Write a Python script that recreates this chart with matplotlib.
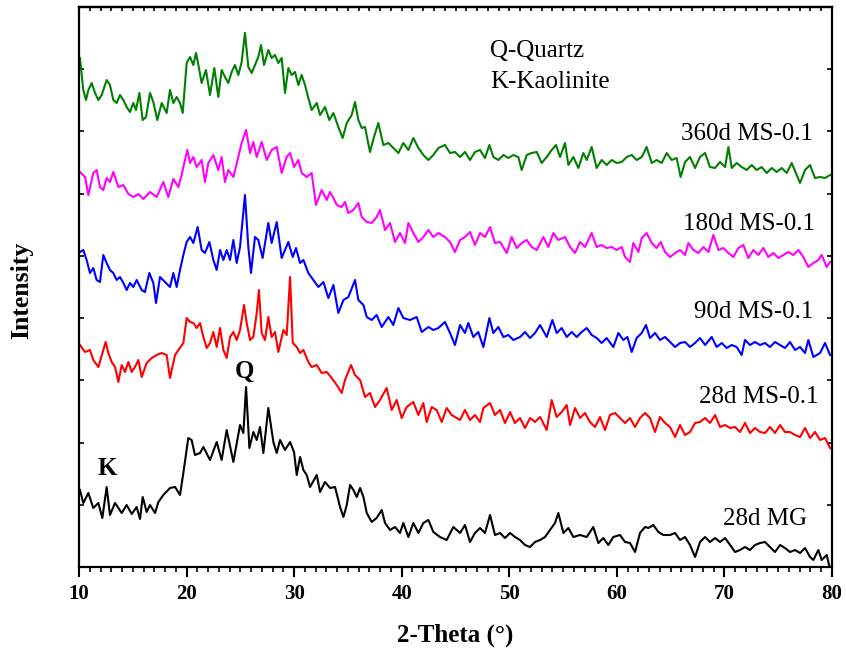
import matplotlib
matplotlib.use("Agg")
import matplotlib.pyplot as plt
from matplotlib.ticker import MultipleLocator
import numpy as np

plt.rcParams['font.family'] = ['Liberation Serif', 'DejaVu Serif']

# 2-theta (deg) and intensity (a.u., stacked as drawn)
mg28_x = [10.09, 10.40, 10.87, 11.33, 11.80, 12.17, 12.57, 12.88, 13.35, 13.97, 14.43, 14.90, 15.36, 15.67,
          15.92, 16.29, 16.60, 17.07, 17.38, 17.84, 18.46, 18.93, 19.39, 19.70, 20.16, 20.47, 20.78, 21.25,
          21.56, 22.18, 22.80, 23.26, 23.73, 24.35, 24.97, 25.28, 25.53, 25.84, 26.21, 26.52, 26.83, 27.14,
          27.60, 28.07, 28.38, 28.69, 29.15, 29.62, 29.99, 30.24, 30.55, 30.86, 31.17, 31.48, 32.10, 32.41,
          32.87, 33.34, 33.80, 34.27, 34.58, 34.89, 35.20, 35.51, 35.82, 36.13, 36.44, 36.75, 37.21, 37.67,
          38.14, 38.45, 38.91, 39.38, 39.84, 40.15, 40.62, 41.08, 41.55, 42.01, 42.48, 42.94, 43.56, 44.18,
          44.80, 45.42, 45.88, 46.35, 46.81, 47.28, 47.74, 48.21, 48.67, 49.14, 49.60, 50.07, 50.53, 51.00,
          51.46, 51.93, 52.39, 52.86, 53.32, 53.79, 54.25, 54.56, 55.03, 55.49, 55.96, 56.58, 57.20, 57.81,
          58.28, 58.74, 59.21, 59.67, 60.29, 60.76, 61.22, 61.69, 62.15, 62.62, 62.93, 63.39, 63.86, 64.32,
          64.94, 65.41, 65.87, 66.34, 66.80, 67.27, 67.73, 68.20, 68.66, 69.13, 69.59, 70.06, 70.52, 70.99,
          71.45, 71.91, 72.38, 72.84, 73.31, 73.77, 74.24, 74.70, 75.17, 75.63, 76.10, 76.56, 77.03, 77.49,
          77.96, 78.27, 78.73, 79.04, 79.51, 79.75]
mg28_y = [77, 64, 74, 59, 64, 49, 80, 52, 64, 54, 62, 53, 60, 48,
          70, 55, 62, 54, 65, 72, 79, 80, 72, 94, 129, 127, 112, 114,
          120, 107, 125, 107, 137, 105, 142, 134, 180, 119, 135, 127, 140, 114,
          159, 125, 114, 127, 117, 125, 115, 92, 110, 97, 92, 80, 92, 75,
          85, 79, 80, 60, 50, 62, 82, 77, 70, 79, 70, 54, 45, 49,
          57, 44, 37, 40, 34, 44, 30, 44, 34, 44, 47, 35, 30, 27,
          40, 34, 42, 25, 34, 39, 34, 52, 32, 34, 29, 34, 30, 27,
          22, 20, 25, 27, 30, 37, 44, 54, 34, 39, 30, 32, 30, 40,
          24, 29, 22, 30, 32, 25, 24, 15, 34, 40, 39, 42, 35, 32,
          32, 34, 27, 30, 22, 10, 25, 30, 25, 29, 25, 29, 22, 15,
          17, 20, 17, 22, 24, 25, 20, 15, 22, 19, 15, 17, 14, 19,
          10, 7, 17, 7, 12, 1]

ms28_x = [10.09, 10.56, 11.02, 11.33, 11.80, 12.26, 12.48, 12.73, 13.04, 13.35, 13.66, 13.97, 14.28, 14.59,
          14.90, 15.21, 15.52, 15.83, 16.29, 16.76, 17.22, 17.69, 18.15, 18.46, 18.93, 19.24, 19.70, 20.01,
          20.32, 20.63, 20.94, 21.25, 21.56, 21.87, 22.18, 22.49, 22.80, 23.11, 23.42, 23.73, 24.04, 24.35,
          24.66, 24.97, 25.34, 25.59, 25.90, 26.21, 26.52, 26.73, 26.98, 27.29, 27.60, 27.91, 28.22, 28.53,
          29.00, 29.31, 29.62, 29.87, 30.24, 30.55, 30.86, 31.32, 31.63, 32.10, 32.56, 33.03, 33.49, 33.96,
          34.42, 34.73, 35.29, 35.66, 36.13, 36.59, 37.05, 37.52, 37.98, 38.60, 39.07, 39.53, 40.00, 40.46,
          41.08, 41.55, 42.01, 42.32, 42.79, 43.25, 43.72, 44.18, 44.64, 45.11, 45.42, 45.88, 46.35, 46.81,
          47.28, 47.59, 48.21, 48.67, 49.14, 49.60, 50.07, 50.53, 51.00, 51.46, 51.93, 52.39, 52.86, 53.48,
          53.94, 54.41, 54.87, 55.34, 55.65, 56.11, 56.58, 57.04, 57.50, 57.97, 58.43, 58.90, 59.36, 59.83,
          60.29, 60.76, 61.22, 61.69, 62.15, 62.62, 63.08, 63.55, 64.01, 64.48, 64.94, 65.41, 65.87, 66.34,
          66.80, 67.27, 67.73, 68.20, 68.66, 69.13, 69.59, 70.06, 70.52, 70.99, 71.45, 71.91, 72.38, 72.84,
          73.31, 73.77, 74.24, 74.70, 75.17, 75.63, 76.10, 76.56, 77.03, 77.49, 77.96, 78.42, 78.89, 79.35,
          79.82]
ms28_y = [222, 215, 217, 207, 200, 217, 225, 214, 205, 200, 185, 202, 195, 205,
          195, 200, 207, 190, 204, 209, 212, 214, 212, 189, 212, 217, 224, 249,
          245, 244, 239, 244, 230, 219, 224, 235, 220, 239, 217, 209, 230, 235,
          227, 237, 262, 244, 227, 230, 254, 277, 234, 227, 250, 230, 235, 215,
          237, 232, 290, 224, 220, 214, 217, 205, 200, 202, 194, 195, 189, 182,
          174, 187, 202, 192, 187, 170, 174, 160, 167, 179, 157, 167, 149, 160,
          165, 152, 164, 145, 160, 157, 145, 159, 152, 149, 147, 157, 147, 152,
          145, 159, 164, 152, 157, 144, 155, 144, 149, 139, 149, 145, 150, 137,
          167, 150, 155, 162, 142, 159, 149, 154, 145, 140, 150, 137, 152, 154,
          149, 144, 149, 140, 149, 154, 149, 135, 150, 144, 140, 130, 142, 132,
          135, 144, 145, 149, 144, 152, 140, 142, 139, 140, 135, 144, 134, 139,
          135, 134, 140, 134, 142, 135, 135, 132, 130, 139, 129, 135, 127, 129,
          119]

ms90_x = [10.09, 10.40, 10.71, 11.02, 11.33, 11.64, 11.95, 12.26, 12.57, 12.88, 13.19, 13.50, 13.81, 14.12,
          14.43, 14.74, 15.05, 15.36, 15.83, 16.13, 16.54, 16.91, 17.16, 17.53, 17.99, 18.46, 18.77, 19.08,
          19.39, 19.70, 20.01, 20.32, 20.63, 21.03, 21.40, 21.71, 22.12, 22.49, 22.80, 23.11, 23.42, 23.73,
          24.04, 24.35, 24.66, 24.97, 25.43, 25.74, 25.99, 26.36, 26.67, 27.07, 27.60, 27.91, 28.38, 28.84,
          29.46, 29.87, 30.17, 30.55, 30.86, 31.32, 31.79, 32.25, 32.72, 33.18, 33.65, 34.11, 34.58, 35.04,
          35.66, 35.97, 36.44, 36.75, 37.21, 37.67, 38.14, 38.76, 39.22, 39.69, 40.15, 40.77, 41.39, 41.86,
          42.48, 42.94, 43.41, 44.02, 44.49, 44.95, 45.42, 45.88, 46.19, 46.66, 47.12, 47.59, 48.15, 48.52,
          48.98, 49.45, 49.91, 50.38, 51.00, 51.46, 51.93, 52.39, 52.86, 53.48, 54.00, 54.41, 54.87, 55.34,
          55.80, 56.27, 56.73, 57.20, 57.66, 58.12, 58.59, 59.05, 59.67, 60.14, 60.60, 60.98, 61.38, 61.84,
          62.31, 62.71, 63.08, 63.55, 64.01, 64.48, 64.94, 65.41, 65.87, 66.34, 66.80, 67.27, 67.73, 68.20,
          68.82, 69.28, 69.75, 70.21, 70.68, 71.14, 71.60, 71.91, 72.38, 72.84, 73.31, 73.77, 74.24, 74.70,
          75.17, 75.63, 76.10, 76.56, 77.03, 77.49, 77.80, 78.27, 78.89, 79.35, 79.82]
ms90_y = [315, 317, 307, 294, 299, 287, 285, 312, 304, 297, 294, 287, 290, 284,
          277, 284, 280, 287, 277, 275, 294, 284, 264, 290, 285, 280, 294, 280,
          297, 312, 325, 330, 324, 340, 317, 314, 325, 307, 297, 317, 307, 317,
          307, 327, 304, 320, 372, 320, 294, 330, 327, 309, 344, 324, 345, 309,
          325, 310, 319, 304, 307, 294, 287, 280, 285, 269, 282, 254, 267, 270,
          287, 267, 262, 250, 247, 252, 240, 250, 242, 259, 249, 247, 250, 235,
          240, 237, 239, 245, 234, 222, 242, 234, 244, 230, 235, 220, 249, 234,
          240, 230, 232, 227, 230, 235, 229, 234, 242, 230, 247, 234, 239, 230,
          235, 230, 235, 239, 232, 229, 224, 229, 220, 234, 227, 230, 215, 229,
          234, 242, 229, 234, 227, 230, 225, 220, 224, 225, 220, 224, 229, 222,
          230, 220, 224, 219, 222, 220, 212, 227, 222, 225, 222, 224, 220, 225,
          222, 219, 225, 217, 220, 214, 227, 210, 214, 224, 212]

ms180_x = [10.09, 10.56, 10.87, 11.33, 11.64, 11.95, 12.26, 12.57, 12.88, 13.19, 13.66, 14.12, 14.59, 15.05,
           15.52, 15.98, 16.60, 17.22, 17.84, 18.30, 18.77, 19.24, 19.54, 19.85, 20.07, 20.32, 20.63, 20.94,
           21.40, 21.71, 22.02, 22.49, 22.95, 23.26, 23.57, 23.88, 24.35, 24.81, 25.12, 25.53, 25.90, 26.21,
           26.52, 26.98, 27.45, 27.91, 28.38, 28.84, 29.31, 29.62, 29.99, 30.39, 30.70, 31.17, 31.63, 32.03,
           32.56, 33.03, 33.33, 33.65, 33.96, 34.42, 34.73, 35.04, 35.50, 35.97, 36.28, 36.75, 37.21, 37.67,
           37.98, 38.45, 38.91, 39.38, 39.84, 40.31, 40.62, 41.08, 41.55, 42.01, 42.48, 42.94, 43.41, 44.02,
           44.49, 44.95, 45.42, 45.88, 46.35, 46.81, 47.28, 47.74, 48.21, 48.67, 49.14, 49.76, 50.22, 50.69,
           51.15, 51.62, 52.08, 52.55, 53.17, 53.63, 54.10, 54.56, 55.18, 55.65, 56.11, 56.58, 57.04, 57.66,
           58.12, 58.59, 59.05, 59.52, 59.98, 60.45, 60.76, 61.22, 61.53, 62.00, 62.31, 62.77, 63.24, 63.70,
           64.07, 64.48, 64.94, 65.41, 65.87, 66.34, 66.65, 67.11, 67.58, 68.04, 68.51, 68.97, 69.44, 69.90,
           70.37, 70.83, 71.30, 71.76, 72.22, 72.69, 73.15, 73.62, 74.08, 74.55, 75.01, 75.48, 75.94, 76.41,
           76.87, 77.34, 77.80, 78.27, 78.73, 79.04, 79.51, 79.82]
ms180_y = [395, 390, 372, 394, 397, 380, 377, 389, 385, 395, 380, 382, 373, 370,
           373, 368, 375, 370, 385, 370, 388, 380, 392, 407, 417, 404, 410, 400,
           407, 385, 404, 412, 397, 410, 385, 397, 390, 410, 424, 437, 414, 425,
           410, 425, 407, 417, 420, 394, 410, 414, 400, 407, 394, 390, 394, 362,
           377, 367, 375, 369, 362, 360, 365, 354, 357, 364, 350, 345, 344, 350,
           357, 337, 344, 325, 334, 324, 344, 334, 325, 330, 337, 330, 334, 330,
           325, 315, 327, 330, 335, 322, 334, 330, 340, 324, 325, 314, 330, 319,
           324, 327, 320, 317, 330, 320, 334, 327, 330, 320, 314, 325, 320, 334,
           320, 322, 319, 320, 317, 320, 310, 305, 324, 315, 329, 334, 324, 319,
           325, 315, 310, 314, 317, 312, 324, 317, 314, 320, 315, 332, 317, 319,
           314, 310, 319, 322, 309, 317, 312, 319, 310, 314, 309, 312, 315, 312,
           317, 310, 300, 304, 307, 312, 300, 305]

ms360_x = [10.09, 10.40, 10.65, 10.87, 11.18, 11.49, 11.80, 12.11, 12.57, 12.88, 13.19, 13.50, 13.81, 14.12,
           14.43, 14.74, 15.05, 15.30, 15.61, 15.92, 16.23, 16.60, 16.91, 17.28, 17.69, 18.15, 18.46, 18.77,
           19.08, 19.39, 19.64, 20.01, 20.32, 20.63, 20.88, 21.10, 21.40, 21.80, 22.18, 22.58, 22.95, 23.26,
           23.57, 23.88, 24.19, 24.50, 24.81, 25.12, 25.43, 25.74, 26.05, 26.36, 26.67, 26.92, 27.20, 27.60,
           27.91, 28.22, 28.53, 28.84, 29.15, 29.46, 29.77, 30.08, 30.39, 30.70, 31.01, 31.32, 31.63, 32.10,
           32.41, 32.87, 33.27, 33.65, 34.11, 34.51, 34.89, 35.35, 35.66, 35.97, 36.28, 36.59, 37.05, 37.42,
           37.83, 38.29, 38.76, 39.22, 39.69, 40.15, 40.62, 41.08, 41.55, 42.01, 42.48, 42.94, 43.41, 44.02,
           44.49, 44.95, 45.42, 45.88, 46.35, 46.81, 47.28, 47.74, 48.15, 48.52, 48.98, 49.45, 49.91, 50.38,
           50.84, 51.15, 51.62, 52.08, 52.55, 53.01, 53.48, 53.94, 54.34, 54.72, 55.18, 55.49, 55.96, 56.42,
           56.89, 57.20, 57.66, 58.12, 58.59, 59.05, 59.52, 59.98, 60.45, 60.91, 61.38, 61.84, 62.31, 62.77,
           63.24, 63.70, 64.17, 64.63, 65.10, 65.56, 65.93, 66.34, 66.80, 67.27, 67.73, 68.20, 68.66, 69.13,
           69.59, 70.06, 70.37, 70.68, 71.14, 71.60, 72.07, 72.53, 73.00, 73.46, 73.93, 74.39, 74.86, 75.32,
           75.79, 76.25, 76.72, 77.03, 77.49, 77.96, 78.42, 78.89, 79.35, 79.82]
ms360_y = [509, 477, 467, 477, 484, 474, 467, 472, 487, 482, 467, 464, 472, 467,
           460, 455, 464, 457, 474, 447, 450, 474, 465, 447, 464, 454, 477, 464,
           470, 464, 454, 504, 510, 502, 514, 502, 484, 497, 472, 499, 470, 497,
           490, 484, 495, 502, 492, 505, 534, 500, 494, 502, 510, 522, 502, 517,
           509, 512, 504, 509, 474, 499, 492, 495, 482, 492, 482, 469, 457, 464,
           452, 460, 447, 454, 440, 429, 444, 452, 465, 447, 439, 440, 415, 430,
           444, 422, 424, 419, 414, 424, 417, 429, 419, 412, 407, 412, 419, 422,
           414, 415, 410, 415, 407, 415, 417, 409, 422, 410, 407, 412, 409, 412,
           410, 397, 412, 414, 415, 404, 410, 417, 422, 410, 424, 402, 410, 399,
           414, 407, 420, 399, 407, 402, 407, 404, 405, 410, 412, 407, 410, 420,
           404, 407, 404, 414, 407, 409, 390, 405, 410, 399, 410, 414, 400, 399,
           405, 400, 420, 399, 404, 400, 397, 402, 397, 400, 394, 399, 395, 399,
           394, 404, 392, 384, 397, 402, 389, 390, 389, 392]

series = [
    (mg28_x, mg28_y, "black", "28d MG"),
    (ms28_x, ms28_y, "#ff0000", "28d MS-0.1"),
    (ms90_x, ms90_y, "#0000ff", "90d MS-0.1"),
    (ms180_x, ms180_y, "#ff00ff", "180d MS-0.1"),
    (ms360_x, ms360_y, "#008000", "360d MS-0.1"),
]

fig = plt.figure(figsize=(8.46, 6.54), dpi=100)
ax = fig.add_axes([79 / 846, 1 - 567 / 654, 753 / 846, 560 / 654])

for xs, ys, col, name in series:
    ax.plot(xs, ys, color=col, lw=1.5)

ax.set_xlim(10, 80)
ax.set_ylim(0, 560)
ax.xaxis.set_major_locator(MultipleLocator(10))
ax.xaxis.set_minor_locator(MultipleLocator(1))
ax.set_yticks(np.linspace(0, 560, 10))
ax.yaxis.set_minor_locator(plt.NullLocator())
ax.tick_params(axis='x', which='major', direction='out', length=7.5, width=1.5,
               top=False, pad=5, labelsize=15)
ax.tick_params(axis='x', which='minor', direction='out', length=3.5, width=1.2, top=False)
ax.tick_params(axis='y', which='major', direction='in', length=3.5, width=1.2,
               left=True, right=True, labelleft=False)
for lab in ax.get_xticklabels():
    lab.set_fontweight('bold')

# top axis: small inward minor ticks
top = ax.secondary_xaxis('top')
top.xaxis.set_major_locator(MultipleLocator(10))
top.xaxis.set_minor_locator(MultipleLocator(1))
top.tick_params(which='both', direction='in', length=3, width=1.2, labeltop=False)

for sp in ax.spines.values():
    sp.set_linewidth(1.6)
top.spines['top'].set_linewidth(1.6)

label_kw = dict(fontsize=18, ha='right', va='baseline')
ax.text(78.23, 427, "360d MS-0.1", **label_kw)
ax.text(78.40, 337, "180d MS-0.1", **label_kw)
ax.text(78.23, 249, "90d MS-0.1", **label_kw)
ax.text(78.70, 164, "28d MS-0.1", **label_kw)
ax.text(77.70, 42, "28d MG", **label_kw)
ax.text(48.2, 510, "Q-Quartz", fontsize=18, ha='left', va='baseline')
ax.text(48.2, 479, "K-Kaolinite", fontsize=18, ha='left', va='baseline')
ax.text(25.4, 189, "Q", fontsize=18, fontweight='bold', ha='center', va='baseline')
ax.text(12.6, 92, "K", fontsize=18, fontweight='bold', ha='center', va='baseline')

fig.text(455 / 846, 1 - 635 / 654, "2-Theta (°)", fontsize=18, fontweight='bold',
         ha='center', va='center')
fig.text(22 / 846, 1 - 290 / 654, "Intensity", fontsize=18.5, fontweight='bold',
         ha='center', va='center', rotation=90)

fig.savefig("out.png", dpi=100)
